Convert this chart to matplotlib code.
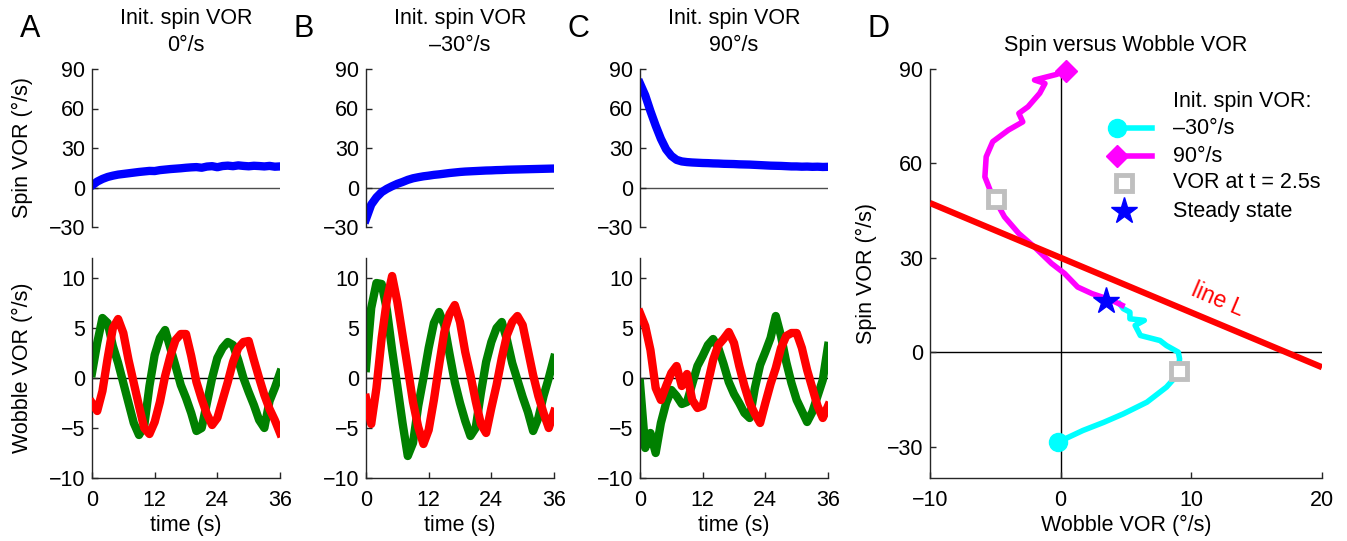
import matplotlib.pyplot as plt

plt.rcParams['font.family'] = ['Liberation Sans', 'DejaVu Sans']
plt.rcParams['axes.unicode_minus'] = True

# ---- data (time grid in seconds) ----
t = list(range(37))

spin_a = [1.5, 4.5, 6.5, 8.0, 9.0, 9.8, 10.3, 10.8, 11.3, 11.8, 12.2, 12.6, 12.5,
          13.2, 13.6, 14.0, 14.3, 14.6, 15.0, 15.3, 15.5, 15.0, 15.9, 16.2, 15.4,
          16.3, 16.6, 16.2, 16.8, 16.4, 16.1, 16.5, 16.3, 16.0, 16.4, 15.8, 16.0]
spin_b = [-24, -13, -7.5, -3.5, -1.0, 1.0, 2.8, 4.2, 5.8, 7.0, 7.8, 8.5, 9.0,
          9.6, 10.0, 10.5, 11.0, 11.4, 11.8, 12.1, 12.3, 12.5, 12.7, 12.9, 13.0,
          13.2, 13.3, 13.5, 13.6, 13.7, 13.8, 13.9, 14.0, 14.1, 14.2, 14.3, 14.4]
spin_c = [79, 70, 58, 47, 37, 29, 24, 21, 19.8, 19.3, 19.0, 18.8, 18.6, 18.5,
          18.3, 18.2, 18.0, 17.9, 17.8, 17.6, 17.5, 17.4, 17.2, 17.0, 16.8, 16.6,
          16.5, 16.4, 16.2, 16.0, 16.0, 15.8, 15.9, 15.7, 15.8, 15.6, 15.7]

green_a = [0.5, 3.5, 6.0, 5.5, 3.2, 1.5, -0.5, -2.5, -4.5, -5.7, -4.8, -0.8, 2.3,
           4.0, 4.8, 3.0, 1.2, -0.7, -2.0, -3.5, -5.3, -5.0, -2.5, 0.0, 2.0, 3.0,
           3.6, 3.3, 1.8, 0.0, -1.4, -2.7, -4.2, -5.0, -2.3, -1.0, 0.5]
red_a = [-2.5, -3.3, -1.3, 2.0, 5.0, 5.9, 4.5, 1.8, -0.5, -2.8, -5.0, -5.6, -4.4,
         -2.4, 0.2, 2.2, 3.8, 4.4, 4.4, 2.2, -0.4, -2.1, -3.6, -4.7, -4.0, -2.2,
         -0.4, 1.6, 3.0, 3.6, 3.7, 1.8, 0.0, -1.7, -3.1, -4.2, -5.5]

green_b = [1.0, 7.0, 9.5, 9.4, 6.8, 2.8, -0.8, -4.5, -7.8, -6.5, -2.8, 0.0, 3.0,
           5.5, 6.6, 5.3, 2.4, -0.4, -2.5, -4.3, -5.8, -5.0, -1.5, 1.6, 3.6, 5.0,
           5.6, 3.8, 1.5, -0.2, -1.9, -3.4, -5.3, -4.0, -1.8, 0.0, 2.0]
red_b = [-2.0, -4.6, -1.0, 4.0, 7.8, 10.2, 7.6, 4.3, 1.0, -2.4, -4.9, -6.6, -5.2,
         -2.2, 1.3, 4.6, 6.4, 7.3, 5.6, 2.6, 0.3, -2.3, -4.6, -5.5, -3.0, -0.7,
         2.0, 4.3, 5.6, 6.2, 5.3, 2.8, 0.3, -1.8, -3.5, -5.0, -3.4]

green_c = [-0.5, -7.0, -5.5, -7.5, -4.5, -2.5, -1.2, -1.8, -2.6, -2.4, -0.6, 1.2,
           2.2, 3.3, 3.9, 3.0, 1.4, -0.4, -1.6, -2.5, -3.5, -4.0, -1.0, 1.3, 2.6,
           4.0, 6.2, 4.2, 1.6, -0.5, -2.2, -3.3, -4.4, -3.4, -1.8, -0.2, 3.2]
red_c = [6.5, 5.2, 2.8, -1.0, -2.2, -0.8, 0.5, 1.2, -0.8, 0.4, -2.2, -3.0, -2.8,
         -0.5, 1.8, 3.3, 3.9, 4.6, 3.5, 1.2, -0.8, -2.5, -3.6, -4.5, -2.5, -0.6,
         1.0, 3.0, 4.2, 4.5, 4.5, 3.0, 0.8, -1.0, -2.8, -4.0, -2.8]

# panel D trajectories (wobble, spin)
traj90_x = [0.4, -0.3, -2.0, -1.2, -1.6, -2.5, -3.2, -2.9, -4.0, -5.2, -5.7, -5.8,
            -5.4, -5.0, -4.3, -3.2, -2.0, -0.7, 0.3, 1.3, 2.4, 3.9, 4.7]
traj90_y = [89.5, 88.3, 86.5, 85.4, 82.3, 78.0, 75.9, 73.2, 70.6, 66.9, 62.1, 55.7,
            51.5, 48.3, 43.0, 37.7, 33.4, 28.2, 25.0, 20.7, 18.6, 16.5, 14.9]
trajm30_x = [-0.2, 1.7, 3.3, 4.8, 6.6, 8.1, 9.0, 9.1, 9.0, 8.1, 7.6, 6.1, 5.7,
             6.4, 5.3, 5.3, 4.8, 4.5]
trajm30_y = [-28.6, -24.9, -22.3, -19.6, -15.9, -11.1, -6.9, -2.1, 0.0, 2.1, 3.7,
             5.3, 8.5, 10.1, 10.6, 12.7, 13.8, 15.4]
t25_x = [-4.95, 9.05]
t25_y = [48.6, -6.1]
steady_x = [3.5]
steady_y = [16.2]
line_l_x = [-10, 20]
line_l_y = [47.4, -4.8]

W, H = 1347, 541
fig = plt.figure(figsize=(W / 100, H / 100), dpi=100)

FS = 15.5
BLUE, GREEN, RED = (0, 0, 1), (0, 0.5, 0), (1, 0, 0)
CYAN, MAGENTA, GRAY = (0, 1, 1), (1, 0, 1), (0.75, 0.75, 0.75)


def rect(left, top, right, bottom):
    return [left / W, 1 - bottom / H, (right - left) / W, (bottom - top) / H]


def style(ax):
    for s in ("top", "right"):
        ax.spines[s].set_visible(False)
    for s in ("left", "bottom"):
        ax.spines[s].set_color("0.15")
        ax.spines[s].set_linewidth(1.0)
    ax.tick_params(direction="in", length=4, width=1, color="0.15",
                   labelsize=FS, pad=5)
    ax.tick_params(axis="x", pad=9)


lefts = [92, 366, 640]
letters = ["A", "B", "C"]
titles = ["0°/s", "–30°/s", "90°/s"]
spins = [spin_a, spin_b, spin_c]
greens = [green_a, green_b, green_c]
reds = [red_a, red_b, red_c]

for i, left in enumerate(lefts):
    top_ax = fig.add_axes(rect(left, 69, left + 188, 227))
    style(top_ax)
    top_ax.spines["bottom"].set_visible(False)
    top_ax.set_xticks([])
    top_ax.axhline(0, color="0.3", lw=1, zorder=1)
    top_ax.plot(t, spins[i], color=BLUE, lw=6, solid_joinstyle="round", zorder=2)
    top_ax.set_xlim(0, 36)
    top_ax.set_ylim(-30, 90)
    top_ax.set_yticks([-30, 0, 30, 60, 90])
    top_ax.text(0.5, (227 - 18) / 158, "Init. spin VOR", transform=top_ax.transAxes,
                ha="center", va="center", fontsize=FS)
    top_ax.text(0.5, (227 - 45) / 158, titles[i], transform=top_ax.transAxes,
                ha="center", va="center", fontsize=FS)
    fig.text((left - 62) / W, 1 - 29 / H, letters[i], fontsize=22,
             ha="center", va="center")

    bot_ax = fig.add_axes(rect(left, 258, left + 188, 478))
    style(bot_ax)
    bot_ax.axhline(0, color="k", lw=1, zorder=1)
    bot_ax.plot(t, greens[i], color=GREEN, lw=6, solid_joinstyle="round", zorder=2)
    bot_ax.plot(t, reds[i], color=RED, lw=6, solid_joinstyle="round", zorder=3)
    bot_ax.set_xlim(0, 36)
    bot_ax.set_ylim(-10, 12)
    bot_ax.set_xticks([0, 12, 24, 36])
    bot_ax.set_yticks([-10, -5, 0, 5, 10])
    bot_ax.set_xlabel("time (s)", fontsize=FS)
    bot_ax.xaxis.set_label_coords(0.5, (478 - 525) / 220)
    bot_ax.xaxis.label.set_va("center")

    if i == 0:
        top_ax.set_ylabel("Spin VOR (°/s)", fontsize=FS, va="center")
        top_ax.yaxis.set_label_coords((22 - 92) / 188, 0.5)
        bot_ax.set_ylabel("Wobble VOR (°/s)", fontsize=FS, va="center")
        bot_ax.yaxis.set_label_coords((22 - 92) / 188, 0.5)

# ---- panel D ----
ax = fig.add_axes(rect(930, 69, 1322, 478))
style(ax)
ax.axhline(0, color="k", lw=1, zorder=1)
ax.axvline(0, color="k", lw=1, zorder=1)
ax.plot(trajm30_x, trajm30_y, color=CYAN, lw=4, zorder=3)
ax.plot(traj90_x, traj90_y, color=MAGENTA, lw=4, zorder=3)
ax.plot(line_l_x, line_l_y, color=RED, lw=4.5, zorder=4, solid_capstyle="butt")
ax.plot(trajm30_x[:1], trajm30_y[:1], "o", color=CYAN, ms=13, zorder=5, clip_on=False)
ax.plot(traj90_x[:1], traj90_y[:1], "D", color=MAGENTA, ms=11, zorder=5, clip_on=False)
ax.plot(t25_x, t25_y, "s", mfc="white", mec=GRAY, mew=3.5, ms=11, zorder=6)
ax.plot(steady_x, steady_y, "*", color=BLUE, ms=20, zorder=7)
ax.set_xlim(-10, 20)
ax.set_ylim(-40, 90)
ax.set_xticks([-10, 0, 10, 20])
ax.set_yticks([-30, 0, 30, 60, 90])
ax.set_xlabel("Wobble VOR (°/s)", fontsize=FS, va="center")
ax.xaxis.set_label_coords(0.5, (478 - 525) / 409)
ax.set_ylabel("Spin VOR (°/s)", fontsize=FS, va="center")
ax.yaxis.set_label_coords((866 - 930) / 392, 0.5)
ax.set_title("Spin versus Wobble VOR", fontsize=FS, pad=13)
ax.text(12.0, 16.8, "line L", color=RED, fontsize=FS + 1, rotation=-23,
        ha="center", va="center")
fig.text(878 / W, 1 - 29 / H, "D", fontsize=22, ha="center", va="center")


def fx(px):
    return (px - 930) / 392


def fy(py):
    return (478 - py) / 409


tr = ax.transAxes
ax.text(fx(1173), fy(101), "Init. spin VOR:", transform=tr, fontsize=FS,
        ha="left", va="center")
ax.plot([fx(1117), fx(1152)], [fy(128), fy(128)], color=CYAN, lw=4,
        transform=tr, clip_on=False)
ax.plot([fx(1117)], [fy(128)], "o", color=CYAN, ms=13, transform=tr, clip_on=False)
ax.plot([fx(1117), fx(1152)], [fy(156), fy(156)], color=MAGENTA, lw=4,
        transform=tr, clip_on=False)
ax.plot([fx(1117)], [fy(156)], "D", color=MAGENTA, ms=11, transform=tr, clip_on=False)
ax.plot([fx(1124)], [fy(183)], "s", mfc="white", mec=GRAY, mew=3.5, ms=11,
        transform=tr, clip_on=False)
ax.plot([fx(1124)], [fy(211)], "*", color=BLUE, ms=20, transform=tr, clip_on=False)
for py, label in [(128, "–30°/s"), (156, "90°/s"), (183, "VOR at t = 2.5s"),
                  (211, "Steady state")]:
    ax.text(fx(1173), fy(py), label, transform=tr, fontsize=FS, ha="left", va="center")

fig.savefig("out.png", dpi=100)
